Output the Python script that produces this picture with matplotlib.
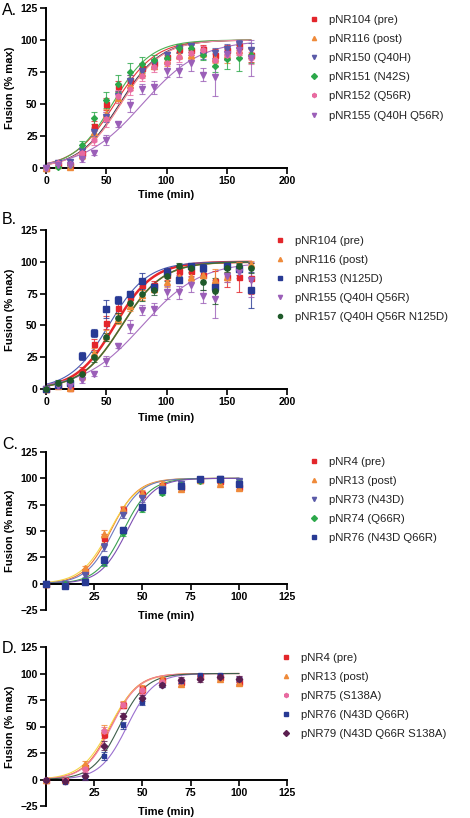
import numpy as np
import matplotlib
matplotlib.use("Agg")
import matplotlib.pyplot as plt

plt.rcParams['font.family'] = ['Liberation Sans', 'DejaVu Sans']

# ---- time points ----
t_long = [0, 10, 20, 30, 40, 50, 60, 70, 80, 90, 100, 110, 120, 130, 140, 150, 160, 170]
t_short = [0, 10, 20, 30, 40, 50, 60, 70, 80, 90, 100]

# ---- panel A ----
a_pre = [0, 3, 2, 12, 33, 50, 64, 69, 78, 82, 87, 93, 92, 93, 88, 92, 95, 88]
a_pre_err = [0, 2, 2, 3, 4, 5, 4, 4, 4, 3, 4, 3, 4, 3, 5, 4, 3, 5]
a_post = [0, 2, 1, 10, 28, 42, 55, 65, 74, 80, 84, 88, 88, 90, 86, 88, 92, 90]
a_post_err = [0, 2, 2, 3, 4, 4, 4, 4, 4, 3, 4, 3, 3, 3, 4, 6, 4, 4]
a_q40h = [0, 4, 5, 13, 28, 40, 56, 68, 76, 82, 88, 93, 95, 88, 90, 93, 97, 92]
a_q40h_err = [0, 2, 2, 3, 3, 4, 4, 5, 4, 3, 3, 3, 3, 3, 4, 4, 3, 6]
a_n42s = [0, 1, 2, 18, 39, 53, 66, 75, 81, 84, 86, 94, 94, 88, 80, 85, 86, 88]
a_n42s_err = [0, 1, 2, 3, 5, 6, 7, 7, 6, 4, 5, 3, 3, 4, 5, 8, 10, 6]
a_q56r = [0, 4, 3, 12, 22, 38, 56, 62, 72, 79, 82, 87, 90, 92, 84, 88, 90, 86]
a_q56r_err = [0, 2, 2, 3, 4, 6, 5, 5, 4, 4, 5, 4, 4, 3, 5, 4, 4, 5]
a_dbl = [0, 2, 2, 7, 12, 22, 34, 49, 62, 63, 76, 76, 82, 73, 71, 89, 92, 86]
a_dbl_err = [0, 1, 1, 2, 2, 4, 2, 5, 4, 5, 5, 5, 6, 5, 15, 5, 5, 14]

# ---- panel B ----
b_pre = [0, 3, 1, 14, 35, 52, 64, 72, 82, 82, 90, 93, 93, 90, 85, 88, 88, 87]
b_pre_err = [0, 2, 2, 3, 4, 5, 4, 4, 4, 3, 4, 3, 4, 3, 8, 8, 12, 12]
b_post = [0, 2, 1, 10, 28, 42, 55, 65, 74, 79, 84, 88, 88, 90, 86, 88, 97, 98]
b_post_err = [0, 2, 2, 3, 4, 4, 4, 4, 4, 3, 4, 3, 3, 3, 8, 4, 3, 3]
b_n125d = [0, 3, 5, 26, 44, 63, 70, 75, 85, 80, 92, 86, 97, 95, 80, 97, 94, 78]
b_n125d_err = [0, 2, 2, 3, 3, 7, 3, 2, 6, 3, 3, 3, 2, 3, 3, 2, 4, 14]
b_dbl = [0, 2, 2, 7, 12, 22, 34, 49, 62, 63, 76, 76, 82, 73, 71, 89, 92, 86]
b_dbl_err = [0, 1, 1, 2, 2, 4, 2, 5, 4, 5, 5, 5, 6, 5, 15, 5, 5, 14]
b_triple = [0, 5, 7, 12, 25, 41, 56, 68, 75, 78, 89, 97, 95, 84, 77, 95, 97, 95]
b_triple_err = [0, 2, 2, 3, 4, 3, 4, 5, 6, 4, 4, 2, 3, 6, 10, 3, 2, 4]

# ---- panel C ----
c_pre = [0, 0, 12, 43, 70, 85, 94, 92, 98, 97, 92]
c_post = [0, 0, 15, 47, 71, 86, 95, 90, 98, 95, 91]
c_n43d = [0, 0, 8, 35, 65, 81, 90, 95, 98, 99, 97]
c_q66r = [0, 0, 3, 21, 48, 71, 86, 94, 97, 98, 96]
c_dbl = [0, -2, 2, 22, 51, 73, 89, 93, 99, 99, 95]
c_err = [0, 1, 2, 4, 3, 3, 2, 2, 1, 1, 2]

# ---- panel D ----
d_s138a = [0, 0, 10, 46, 70, 84, 92, 93, 97, 98, 95]
d_triple = [0, -1, 3, 32, 60, 77, 89, 94, 95, 97, 95]
d_err = [0, 1, 3, 4, 3, 3, 2, 3, 3, 2, 3]

# fit parameters (t50, slope)
fit_a = [(57, 17), (62, 17), (61, 17), (55, 16), (62, 17), (80, 24)]
fit_b = [(57, 16), (63, 17), (52, 16), (80, 24), (63, 17)]
fit_c = [(33.5, 7), (33, 7.5), (35, 7), (40, 7), (42, 7)]
fit_d = [(33.5, 7), (33, 7.5), (34, 7), (42, 7), (38, 7)]

labels_a = ['pNR104 (pre)', 'pNR116 (post)', 'pNR150 (Q40H)', 'pNR151 (N42S)',
            'pNR152 (Q56R)', 'pNR155 (Q40H Q56R)']
labels_b = ['pNR104 (pre)', 'pNR116 (post)', 'pNR153 (N125D)', 'pNR155 (Q40H Q56R)',
            'pNR157 (Q40H Q56R N125D)']
labels_c = ['pNR4 (pre)', 'pNR13 (post)', 'pNR73 (N43D)', 'pNR74 (Q66R)', 'pNR76 (N43D Q66R)']
labels_d = ['pNR4 (pre)', 'pNR13 (post)', 'pNR75 (S138A)', 'pNR76 (N43D Q66R)',
            'pNR79 (N43D Q66R S138A)']

RED, ORANGE, SLATE, GREEN = '#e3262b', '#ef8a3a', '#5a5aa8', '#2ca84a'
PINK, PURPLE, NAVY, DKGREEN, PLUM = '#e86aa0', '#9b5fb8', '#283a94', '#1f5a2a', '#5b1f50'


def sigmoid(t, t50, k):
    return 100.0 / (1.0 + np.exp((t50 - t) / k))


def panel(ax, t, series, errs, fits, markers, colors, fitcolors, fitlw, msizes, labels,
          xmax, xticks, ymin, leg_xy):
    tt = np.linspace(0, t[-1], 200)
    handles = []
    for y, e, f, m, c, fc, lw, ms in zip(series, errs, fits, markers, colors, fitcolors, fitlw, msizes):
        ax.plot(tt, sigmoid(tt, *f), color=fc, lw=lw, zorder=2)
        ax.errorbar(t, y, yerr=e, fmt='none', ecolor=c, elinewidth=0.8, capsize=2.5,
                    capthick=0.8, alpha=0.8, zorder=3, clip_on=False)
        h, = ax.plot(t, y, ls='none', marker=m, color=c, ms=ms, zorder=4, clip_on=False)
        handles.append(h)
    ax.set_xlim(0, xmax)
    ax.set_ylim(ymin, 125)
    ax.set_xticks(xticks)
    ax.set_yticks(np.arange(ymin, 126, 25))
    for s in ['top', 'right']:
        ax.spines[s].set_visible(False)
    for s in ['left', 'bottom']:
        ax.spines[s].set_linewidth(1.4)
    ax.spines['bottom'].set_position(('data', 0))
    ax.tick_params(direction='out', length=4, width=1.2, pad=2, labelsize=7.5)
    for lab in ax.get_xticklabels() + ax.get_yticklabels():
        lab.set_fontweight('bold')
    ax.set_xlabel('Time (min)', fontsize=8, fontweight='bold')
    ax.set_ylabel('Fusion (% max)', fontsize=8, fontweight='bold')
    ax.yaxis.set_label_coords(-0.13, 0.5)
    lhandles = [plt.Line2D([], [], ls='none', marker=h.get_marker(), color=h.get_color(), ms=3)
                for h in handles]
    fig.legend(lhandles, labels, loc='upper left', bbox_to_anchor=leg_xy, frameon=False,
               fontsize=8.2, handlelength=1.0, handletextpad=0.85, labelspacing=0.8,
               borderpad=0, borderaxespad=0, labelcolor='#222222')


fig = plt.figure(figsize=(4.7, 8.18), dpi=100)
W, H = 470.0, 818.0


def add_axes(top_px, bottom_px):
    return fig.add_axes([46 / W, 1 - bottom_px / H, 241 / W, (bottom_px - top_px) / H])


axA = add_axes(8, 168)
panel(axA, t_long, [a_pre, a_post, a_q40h, a_n42s, a_q56r, a_dbl],
      [a_pre_err, a_post_err, a_q40h_err, a_n42s_err, a_q56r_err, a_dbl_err], fit_a,
      ['s', '^', 'v', 'D', 'h', 'v'], [RED, ORANGE, SLATE, GREEN, PINK, PURPLE],
      ['#e8373a', '#f2a04a', '#3a3a48', '#4cb050', '#f08aa8', '#a870c0'],
      [0.8] * 6, [3.6, 3.8, 3.8, 3.0, 3.8, 4.3], labels_a, 200, [0, 50, 100, 150, 200], 0,
      (308 / W, 1 - 15 / H))
axA.xaxis.set_label_coords(0.5, -0.14)

axB = add_axes(230, 389)
panel(axB, t_long, [b_pre, b_post, b_n125d, b_dbl, b_triple],
      [b_pre_err, b_post_err, b_n125d_err, b_dbl_err, b_triple_err], fit_b,
      ['s', '^', 's', 'v', 'o'], [RED, ORANGE, NAVY, PURPLE, DKGREEN],
      ['#e8262b', '#e07b2a', '#4a5bb0', '#a870c0', '#3a6e3a'],
      [1.8, 1.2, 0.8, 0.8, 1.0], [3.6, 3.8, 3.8, 4.3, 3.8], labels_b, 200, [0, 50, 100, 150, 200], 0,
      (274 / W, 1 - 236 / H))

axC = add_axes(452, 610)
panel(axC, t_short, [c_pre, c_post, c_n43d, c_q66r, c_dbl], [c_err] * 5, fit_c,
      ['s', '^', 'v', 'D', 's'], [RED, ORANGE, SLATE, GREEN, NAVY],
      ['#f07a30', '#f5d547', '#6f79c0', '#3aa050', '#7e4fb3'],
      [0.8] * 5, [3.6, 3.8, 3.8, 3.0, 3.8], labels_c, 125, [25, 50, 75, 100, 125], -25,
      (308 / W, 1 - 457 / H))

axD = add_axes(647, 806)
panel(axD, t_short, [c_pre, c_post, d_s138a, c_dbl, d_triple], [c_err, c_err, d_err, c_err, d_err],
      fit_d, ['s', '^', 'h', 's', 'D'], [RED, ORANGE, PINK, NAVY, PLUM],
      ['#f07a30', '#f5d547', '#ee7ba0', '#9a6fcf', '#3d5e4a'],
      [0.8] * 5, [3.6, 3.8, 3.8, 2.6, 3.3], labels_d, 125, [25, 50, 75, 100, 125], -25,
      (280 / W, 1 - 653 / H))

for ax in (axC, axD):
    ax.xaxis.set_label_coords(0.5, -0.005)

for txt, base in [('A.', 15), ('B.', 224), ('C.', 449), ('D.', 653)]:
    fig.text(2 / W, 1 - base / H, txt, fontsize=11.5, va='baseline', ha='left')

fig.savefig('out.png', dpi=100)
